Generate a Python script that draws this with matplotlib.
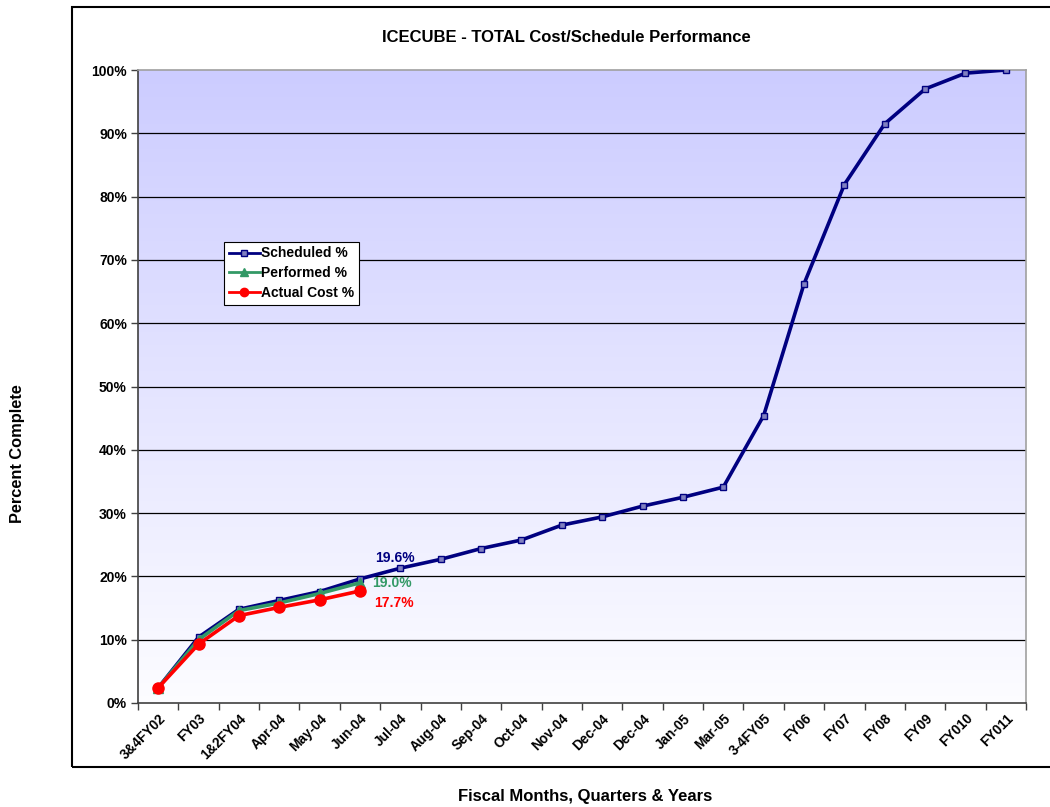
import numpy as np
import matplotlib
matplotlib.use("Agg")
import matplotlib.pyplot as plt
from matplotlib.patches import Rectangle
from matplotlib.lines import Line2D

plt.rcParams['font.family'] = ['Liberation Sans', 'DejaVu Sans']

categories = ["3&4FY02", "FY03", "1&2FY04", "Apr-04", "May-04", "Jun-04", "Jul-04",
              "Aug-04", "Sep-04", "Oct-04", "Nov-04", "Dec-04", "Dec-04", "Jan-05",
              "Mar-05", "3-4FY05", "FY06", "FY07", "FY08", "FY09", "FY010", "FY011"]
scheduled = [2.4, 10.4, 14.8, 16.2, 17.6, 19.6, 21.3, 22.7, 24.4, 25.75, 28.1, 29.4,
             31.1, 32.5, 34.1, 45.4, 66.2, 81.9, 91.5, 97.0, 99.5, 100.0]
performed = [2.4, 10.0, 14.6, 15.8, 17.3, 19.0]
actual = [2.4, 9.3, 13.8, 15.1, 16.3, 17.7]
y_ticks = list(range(0, 101, 10))

NAVY = "#000080"
GREEN = "#339966"
RED = "#FF0000"

fig = plt.figure(figsize=(10.5, 8.07), dpi=100)
ax = fig.add_axes([138/1050, 1 - 703/807, 888/1050, 633/807])

n = len(categories)
x = np.arange(n)
ax.set_xlim(-0.5, n - 0.5)
ax.set_ylim(0, 100)

# gradient background
grad = np.linspace(0, 1, 256).reshape(-1, 1)
top = np.array([0.80, 0.80, 1.0])
bot = np.array([0.99, 0.99, 1.0])
img = bot[None, None, :] * (1 - grad[:, :, None]) + top[None, None, :] * grad[:, :, None]
ax.imshow(img, extent=[-0.5, n - 0.5, 0, 100], origin='lower', aspect='auto', zorder=0)

for yv in y_ticks[1:-1]:
    ax.axhline(yv, color='black', lw=0.9, zorder=1)

ax.plot(x, scheduled, color=NAVY, lw=2.6, marker='s', ms=5, mfc='#8080C0',
        mec=NAVY, mew=1.0, zorder=3, label="Scheduled %")
ax.plot(x[:len(performed)], performed, color=GREEN, lw=2.6, marker='^', ms=7,
        mfc=GREEN, mec=GREEN, zorder=4, label="Performed %")
ax.plot(x[:len(actual)], actual, color=RED, lw=2.6, marker='o', ms=8,
        mfc=RED, mec=RED, zorder=5, label="Actual Cost %")

ax.text(5.87, 22.9, "19.6%", color=NAVY, fontsize=10, fontweight='bold', ha='center', va='center')
ax.text(5.8, 19.0, "19.0%", color=GREEN, fontsize=10, fontweight='bold', ha='center', va='center')
ax.text(5.85, 15.8, "17.7%", color=RED, fontsize=10, fontweight='bold', ha='center', va='center')

ax.set_xticks(x)
ax.set_xticklabels(categories, rotation=45, ha='right', rotation_mode='anchor',
                   fontsize=9.8, fontweight='bold')
ax.set_xticks(np.arange(-0.5, n, 1.0), minor=True)
ax.tick_params(axis='x', which='major', length=0, pad=6)
ax.tick_params(axis='x', which='minor', length=5, width=1, color='#404040', direction='out')
ax.set_yticks(y_ticks)
ax.set_yticklabels([f"{v}%" for v in y_ticks], fontsize=10, fontweight='bold')
ax.tick_params(axis='y', length=5, width=1, color='#404040', direction='out', pad=3)

for s in ['left', 'bottom']:
    ax.spines[s].set_color('#404040')
    ax.spines[s].set_linewidth(1.2)
for s in ['top', 'right']:
    ax.spines[s].set_color('#A0A0A0')
    ax.spines[s].set_linewidth(1.2)

handles = [
    Line2D([], [], color=NAVY, lw=2, marker='s', ms=4, mfc='#8080C0', mec=NAVY),
    Line2D([], [], color=GREEN, lw=2, marker='^', ms=6, mfc=GREEN, mec=GREEN),
    Line2D([], [], color=RED, lw=2, marker='o', ms=6, mfc=RED, mec=RED),
]
leg = ax.legend(handles, ["Scheduled %", "Performed %", "Actual Cost %"],
                loc='upper left', bbox_to_anchor=(0.097, 0.729), fancybox=False,
                shadow=False, framealpha=1, edgecolor='black', facecolor='white',
                prop={'weight': 'bold', 'size': 10}, handlelength=2.2,
                handletextpad=0.1, borderpad=0.35, labelspacing=0.42, borderaxespad=0)
leg.get_frame().set_linewidth(0.8)

# outer chart frame
fig.patches.append(Rectangle((72/1050, 1 - 767/807), 1.0, (767 - 7)/807,
                             transform=fig.transFigure, fill=False,
                             edgecolor='black', lw=1.5, clip_on=False))

fig.text(566/1050, 1 - 37/807, "ICECUBE - TOTAL Cost/Schedule Performance",
         fontsize=12, fontweight='bold', ha='center', va='center')
fig.text(18/1050, 1 - 454/807, "Percent Complete", fontsize=11.8, fontweight='bold',
         rotation=90, ha='center', va='center')
fig.text(585/1050, 1 - 797/807, "Fiscal Months, Quarters & Years", fontsize=12,
         fontweight='bold', ha='center', va='center')

fig.savefig("out.png", dpi=100)
